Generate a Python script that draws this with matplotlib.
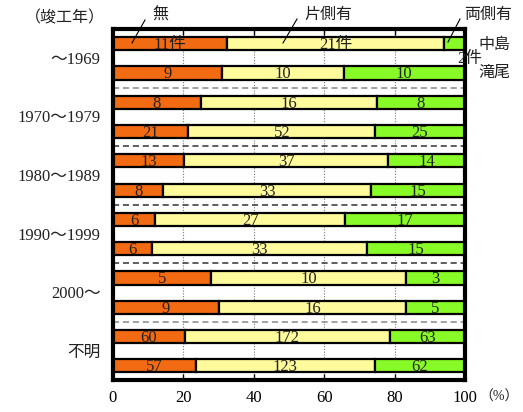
import matplotlib
matplotlib.use("Agg")
import matplotlib.pyplot as plt
import numpy as np

plt.rcParams['font.family'] = ['Liberation Serif', 'Noto Sans CJK JP']

# Completion-year groups (two rows each)
groups = ["～1969", "1970～1979", "1980～1989", "1990～1999", "2000～", "不明"]

# Counts per row: none / one side / both sides
none_cnt = [11, 9, 8, 21, 13, 8, 6, 6, 5, 9, 60, 57]
one_side = [21, 10, 16, 52, 37, 33, 27, 33, 10, 16, 172, 123]
both_side = [2, 10, 8, 25, 14, 15, 17, 15, 3, 5, 63, 62]

series_names = ["無", "片側有", "両側有"]
xticks = [0, 20, 40, 60, 80, 100]

colors = ["#F26A12", "#FFFA9C", "#88FA28"]

counts = np.array([none_cnt, one_side, both_side], dtype=float)
totals = counts.sum(axis=0)
pct = counts / totals * 100

fig = plt.figure(figsize=(5.23, 4.12), dpi=100)
ax = fig.add_axes([0.216, 0.0765, 0.673, 0.853])

n = len(none_cnt)
y = np.arange(n)
left = np.zeros(n)
for k in range(3):
    ax.barh(y, pct[k], left=left, height=0.45, color=colors[k],
            edgecolor="black", linewidth=1.6, zorder=3)
    for i in range(n):
        if i == 0 and k == 2:
            continue
        txt = f"{int(counts[k, i])}"
        if i == 0:
            txt += "件"
        ax.text(left[i] + pct[k, i] / 2, y[i] + 0.05, txt, ha="center",
                va="center", fontsize=12, color="#222222", zorder=5)
    left += pct[k]

ax.set_xlim(0, 100)
ax.set_ylim(n - 0.5, -0.5)

# group separators
sep_colors = ["#888888", "#333333", "#333333", "#333333", "#888888"]
for j, c in enumerate(sep_colors):
    ax.axhline(2 * j + 1.5, color=c, linestyle=(0, (4, 2.5)), linewidth=1.1, zorder=2)

for xv in [20, 40, 60, 80]:
    ax.axvline(xv, color="#777777", linestyle=(0, (1, 1.5)), linewidth=0.8, zorder=1)

for s in ax.spines.values():
    s.set_linewidth(3)
    s.set_zorder(6)

ax.set_xticks(xticks)
ax.set_xticklabels([str(v) for v in xticks], fontsize=12)
ax.tick_params(axis="x", direction="in", top=True, bottom=True, length=4,
               width=1, pad=7, labelsize=12)
ax.set_yticks([])

for j, g in enumerate(groups):
    ax.text(-0.035, 2 * j + 0.55, g, transform=ax.get_yaxis_transform(),
            ha="right", va="center", fontsize=12, color="#222222")

fig.text(479 / 523, 1 - 397 / 412, "（%）", ha="left", va="center", fontsize=10,
         color="#222222")
fig.text(65 / 523, 1 - 18 / 412, "（竣工年）", ha="center", va="center", fontsize=11.5,
         color="#222222")

# series callouts with leader lines
callouts = [
    ("無", (160, 16), (145, 20), (132, 43)),
    ("片側有", (328, 15), (297, 19), (283, 43)),
    ("両側有", (488, 15), (460, 19), (448, 42)),
]
for label, (tx, ty), p0, p1 in callouts:
    fig.text(tx / 523, 1 - ty / 412, label, ha="center", va="center", fontsize=11.5,
             color="#222222")
    fig.add_artist(plt.Line2D([p0[0] / 523, p1[0] / 523],
                              [1 - p0[1] / 412, 1 - p1[1] / 412],
                              color="black", linewidth=0.8))

fig.text(494 / 523, 1 - 45 / 412, "中島", ha="center", va="center", fontsize=11.5,
         color="#222222")
fig.text(470 / 523, 1 - 59 / 412, "2件", ha="center", va="center", fontsize=12,
         color="#222222")
fig.text(494 / 523, 1 - 73 / 412, "滝尾", ha="center", va="center", fontsize=11.5,
         color="#222222")

fig.savefig("out.png", dpi=100)
